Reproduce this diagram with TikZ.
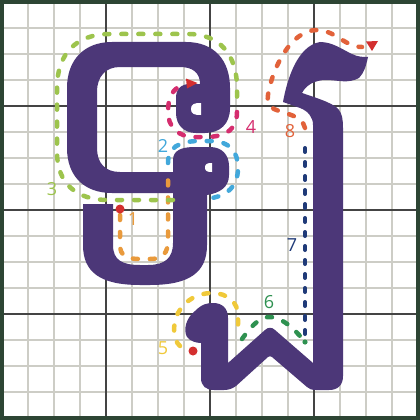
\documentclass[tikz,border=0pt]{standalone}
\usepackage{fontspec}
\setmainfont{Open Sans}
\definecolor{glyph}{HTML}{4C3778}
\definecolor{gfine}{HTML}{CDCDC6}
\definecolor{gthick}{HTML}{444444}
\definecolor{gborder}{HTML}{2D4534}
\definecolor{cone}{HTML}{E99A3C}
\definecolor{ctwo}{HTML}{42A8DB}
\definecolor{cthree}{HTML}{9DC44D}
\definecolor{cfour}{HTML}{D52D6E}
\definecolor{cfive}{HTML}{F0C93A}
\definecolor{csix}{HTML}{2E9150}
\definecolor{cseven}{HTML}{1F3A78}
\definecolor{ceight}{HTML}{E2623A}
\definecolor{cred}{HTML}{D32F2F}
\tikzset{
  fineline/.style={gfine, line width=1.8pt},
  thickline/.style={gthick, line width=1.8pt},
  guide/.style={line width=4.5pt, line cap=round, dash pattern=on 5pt off 12pt},
  dotguide/.style={line width=4pt, line cap=round, dash pattern=on 4pt off 10pt},
  lbl/.style={font=\fontsize{18}{18}\selectfont, inner sep=0pt},
  startdot/.style={fill=cred}
}
\begin{document}
\begin{tikzpicture}[x=1pt,y=-1pt]
\useasboundingbox (0,0) rectangle (420,420);
\fill[white] (0,0) rectangle (420,420);
% grid
\foreach \i in {1,...,15} {
  \draw[fineline] ({2+26*\i},2) -- ({2+26*\i},418);
  \draw[fineline] (2,{2+26*\i}) -- (418,{2+26*\i});
}
\foreach \i in {4,8,12} {
  \draw[thickline] ({2+26*\i},2) -- ({2+26*\i},418);
  \draw[thickline] (2,{2+26*\i}) -- (418,{2+26*\i});
}
\draw[gborder, line width=4pt] (2,2) rectangle (418,418);

% left glyph: big C with knob
\fill[glyph] (175,193) -- (112,193) .. controls (84,193) and (67,176) .. (67,148) -- (67,88)
  .. controls (67,60) and (84,42) .. (112,42) -- (186,42) .. controls (214,42) and (230,60) .. (230,88)
  -- (230,108) .. controls (230,124) and (220,133) .. (205,133) -- (196,133)
  .. controls (184,133) and (176,125) .. (176,113) -- (176,98) .. controls (176,89) and (181,84) .. (190,84)
  -- (200,84) .. controls (200,73) and (193,67) .. (180,67) -- (120,67)
  .. controls (106,67) and (97,76) .. (97,92) -- (97,148) .. controls (97,163) and (105,172) .. (120,172)
  -- (175,172) -- cycle;
\fill[white] (191,109) .. controls (191,104) and (194,103) .. (201,103) -- (201,115) .. controls (194,115) and (191,114) .. (191,109) -- cycle;
% U with blob
\fill[glyph] (83,204) -- (113,204) -- (113,245) .. controls (113,260) and (122,265) .. (140,265) -- (148,265)
  .. controls (165,265) and (173,258) .. (173,243) -- (173,160) .. controls (173,150) and (182,147) .. (195,147)
  -- (210,147) .. controls (222,147) and (229,155) .. (229,166) -- (229,175)
  .. controls (229,187) and (220,193) .. (207,195) -- (207,245) .. controls (207,272) and (190,285) .. (150,285)
  -- (140,285) .. controls (100,285) and (83,272) .. (83,245) -- cycle;
\fill[white] (205,167.5) .. controls (205,164) and (207,163) .. (212,163) -- (212,172) .. controls (207,172) and (205,171) .. (205,167.5) -- cycle;
% right glyph
\fill[glyph] (283,102) .. controls (287,80) and (297,46) .. (320,42)
  .. controls (333,42) and (343,50) .. (352,54) .. controls (358,57) and (363,57) .. (368,57)
  .. controls (366,66) and (364,73) .. (359,78)
  .. controls (348,84) and (338,80) .. (326,80) .. controls (315,80) and (306,85) .. (302,93)
  .. controls (320,99) and (335,104) .. (339,110) .. controls (342,114) and (343,119) .. (343,128)
  -- (343,376) .. controls (343,385) and (338,390) .. (329,390) -- (316,390)
  .. controls (312,390) and (309,389) .. (307,387) -- (272,357) .. controls (271,356) and (269,356) .. (268,357)
  -- (236,386) .. controls (232,389) and (228,390) .. (224,390) -- (214,390) .. controls (206,390) and (201,386) .. (201,378)
  -- (201,343) .. controls (196,343) and (190,341) .. (187,337) .. controls (183,330) and (186,318) .. (195,311)
  .. controls (202,304) and (207,303) .. (213,303) .. controls (222,303) and (228,308) .. (228,318)
  -- (228,363) -- (265,330) .. controls (268,327) and (272,327) .. (275,330) -- (313,363)
  -- (313,125) .. controls (313,117) and (308,111) .. (300,108)
  -- cycle;

% guides
\draw[guide, cone] (120,215) -- (120,245) .. controls (120,256) and (127,259) .. (140,259) -- (150,259)
  .. controls (163,259) and (168,253) .. (168,240) -- (168,175);
\draw[guide, ctwo] (168,163) .. controls (168,148) and (178,141) .. (200,141) -- (210,141)
  .. controls (230,141) and (238,152) .. (238,168) .. controls (238,188) and (225,198) .. (203,199);
\draw[guide, cthree] (173,200) -- (108,200) .. controls (76,200) and (57,183) .. (57,152) -- (57,88)
  .. controls (57,54) and (76,34) .. (110,34) -- (188,34) .. controls (220,34) and (237,55) .. (237,88) -- (237,107);
\draw[guide, cfour] (237,112) .. controls (237,128) and (228,137) .. (205,137) -- (195,137)
  .. controls (177,137) and (168,126) .. (168,112) .. controls (168,98) and (172,88) .. (185,84);
\fill[cred] (186,78.5) -- (197.5,83) -- (187,88.5) -- cycle;
\draw[guide, cfive] (180,346) .. controls (173,340) and (172,325) .. (178,313)
  .. controls (185,300) and (198,293) .. (212,293) .. controls (228,293) and (238,303) .. (238,315) -- (238,335);
\draw[guide, csix] (242,339) .. controls (250,328) and (258,318) .. (268,317) .. controls (280,316) and (292,327) .. (300,336);
\fill[csix] (305,342) circle (2.6);
\draw[dotguide, cseven] (305,334) -- (305,140);
\draw[guide, ceight] (305,128) .. controls (302,115) and (285,114) .. (274,109) .. controls (268,106) and (267,101) .. (268,95)
  .. controls (272,70) and (290,30) .. (317,30) .. controls (335,30) and (345,47) .. (362,47);
\fill[cred] (366,41.5) -- (378,41) -- (372,51) -- cycle;

% start dots
\fill[startdot] (120,209) circle (4.5);
\fill[startdot] (193,351) circle (4.5);

% labels
\node[lbl, text=cone] (l1) at (133,219) {1};
\node[lbl, text=ctwo] (l2) at (163,146) {2};
\node[lbl, text=cthree] (l3) at (52,189) {3};
\node[lbl, text=cfour] (l4) at (251,127) {4};
\node[lbl, text=cfive] (l5) at (163,348) {5};
\node[lbl, text=csix] (l6) at (269,302) {6};
\node[lbl, text=cseven] (l7) at (292,245) {7};
\node[lbl, text=ceight] (l8) at (290,131) {8};
\end{tikzpicture}
\end{document}
